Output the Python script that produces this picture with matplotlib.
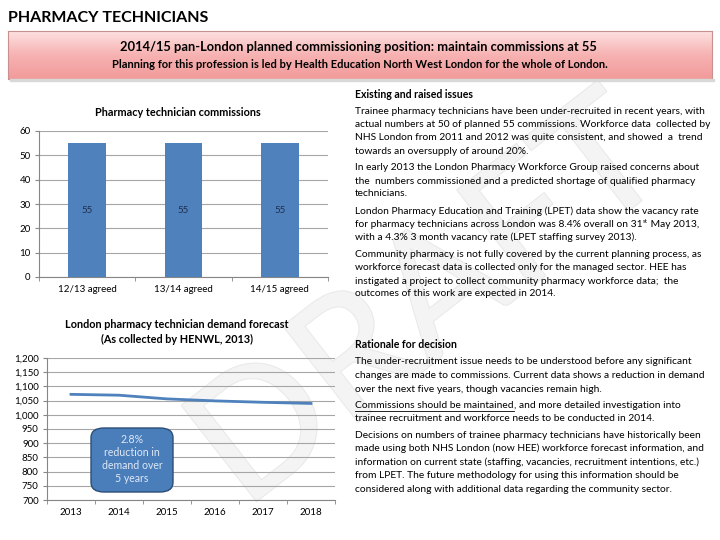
import matplotlib
matplotlib.use("Agg")
import matplotlib.pyplot as plt
import numpy as np
from matplotlib.patches import FancyBboxPatch, Rectangle
from matplotlib.ticker import FuncFormatter, MultipleLocator
from matplotlib.colors import LinearSegmentedColormap
import matplotlib.patheffects as pe

FONT = "Lato"
plt.rcParams['font.family'] = [FONT, 'DejaVu Sans']

# ---------------- data ----------------
bar_categories = ["12/13 agreed", "13/14 agreed", "14/15 agreed"]
bar_values = [55, 55, 55]

line_years = ["2013", "2014", "2015", "2016", "2017", "2018"]
line_values = [1072, 1069, 1056, 1049, 1044, 1040]

page_title = "PHARMACY TECHNICIANS"
banner_line1 = "2014/15 pan-London planned commissioning position: maintain commissions at 55"
banner_line2 = "Planning for this profession is led by Health Education North West London for the whole of London."
bar_title = "Pharmacy technician commissions"
line_title = "London pharmacy technician demand forecast\n(As collected by HENWL, 2013)"
callout_text = "2.8%\nreduction in\ndemand over\n5 years"

W, H = 720, 540
fig = plt.figure(figsize=(7.2, 5.4), dpi=100)
fig.patch.set_facecolor("white")

def fx(x):
    return x / W

def fy(y):
    return 1 - y / H

# ---------------- watermark (background axes) ----------------
bg = fig.add_axes([0, 0, 1, 1], zorder=-10)
bg.set_axis_off()
bg.set_xlim(0, W)
bg.set_ylim(H, 0)
bg.text(430, 305, "DRAFT", fontsize=122, color="#f4f4f4", rotation=38,
        ha="center", va="center", family=FONT,
        path_effects=[pe.withStroke(linewidth=1.5, foreground="#e9e9e9")])

# ---------------- header ----------------
fig.text(fx(8), fy(18), page_title, fontsize=11.5, fontweight="bold", ha="left",
         va="center", color="black")

bax = fig.add_axes([fx(8), fy(79), fx(704), (79 - 31) / H])
grad = np.linspace(0, 1, 100).reshape(-1, 1)
cmap = LinearSegmentedColormap.from_list("pk", ["#fde3e3", "#f7b3b3", "#f29a9a"])
bax.imshow(grad, aspect="auto", cmap=cmap, extent=[0, 1, 0, 1], origin="upper")
bax.set_xlim(0, 1)
bax.set_ylim(0, 1)
bax.set_xticks([])
bax.set_yticks([])
for s in bax.spines.values():
    s.set_color("#c99090")
    s.set_linewidth(0.8)
fig.patches.append(Rectangle((fx(10), fy(81)), fx(704), 2 / H, transform=fig.transFigure,
                             color="#d8d8d8", zorder=0))
fig.text(fx(358), fy(47), banner_line1, fontsize=9.3, fontweight="bold", ha="center", va="center")
fig.text(fx(360), fy(65), banner_line2, fontsize=8.0, fontweight="bold", ha="center", va="center")

# ---------------- bar chart ----------------
ax1 = fig.add_axes([fx(39), fy(277), 289 / W, 146 / H])
ax1.set_facecolor("none")
x = np.arange(len(bar_categories))
ax1.bar(x, bar_values, width=0.39, color="#4f81bd", zorder=3)
for xi, v in zip(x, bar_values):
    ax1.text(xi, v / 2, str(v), ha="center", va="center", fontsize=7, color="#1f2f4f", zorder=4)
ax1.set_xlim(-0.5, 2.5)
ax1.set_ylim(0, 60)
ax1.yaxis.set_major_locator(MultipleLocator(10))
ax1.grid(axis="y", color="#a6a6a6", linewidth=0.8, zorder=0)
ax1.set_xticks(x)
ax1.set_xticklabels(bar_categories, fontsize=7)
ax1.set_xticks([-0.5, 0.5, 1.5, 2.5], minor=True)
ax1.tick_params(axis="x", which="major", length=0, pad=6)
ax1.tick_params(axis="x", which="minor", length=3, color="#868686")
ax1.tick_params(axis="y", labelsize=7, length=3, color="#868686", pad=3)
for s in ["top", "right"]:
    ax1.spines[s].set_visible(False)
for s in ["left", "bottom"]:
    ax1.spines[s].set_color("#868686")
fig.text(fx(178), fy(112), bar_title, fontsize=7.8, fontweight="bold", ha="center", va="center")

# ---------------- line chart ----------------
ax2 = fig.add_axes([fx(47), fy(500), 288 / W, 142 / H])
ax2.set_facecolor("none")
xl = np.arange(len(line_years))
ax2.plot(xl, line_values, color="#4f81bd", linewidth=2, zorder=3)
ax2.set_xlim(-0.5, 5.5)
ax2.set_ylim(700, 1200)
ax2.yaxis.set_major_locator(MultipleLocator(50))
ax2.yaxis.set_major_formatter(FuncFormatter(lambda v, p: f"{int(v):,}"))
ax2.grid(axis="y", color="#a6a6a6", linewidth=0.8, zorder=0)
ax2.set_xticks(xl)
ax2.set_xticklabels(line_years, fontsize=7)
ax2.set_xticks(np.arange(-0.5, 6, 1), minor=True)
ax2.tick_params(axis="x", which="major", length=0, pad=6)
ax2.tick_params(axis="x", which="minor", length=3, color="#868686")
ax2.tick_params(axis="y", labelsize=7, length=3, color="#868686", pad=3)
for s in ["top", "right"]:
    ax2.spines[s].set_visible(False)
for s in ["left", "bottom"]:
    ax2.spines[s].set_color("#868686")
fig.text(fx(177), fy(332), line_title, fontsize=7.8, fontweight="bold", ha="center",
         va="center", linespacing=1.35)

cb = FancyBboxPatch((fx(91), fy(492)), fx(82), 64 / H, boxstyle="round,pad=0,rounding_size=0.018",
                    transform=fig.transFigure, facecolor="#4a7ebb", edgecolor="#2c4d75",
                    linewidth=1.0, zorder=5)
fig.patches.append(cb)
fig.text(fx(132), fy(459), callout_text, fontsize=7.6, color="#dfe8f5", ha="center",
         va="center", linespacing=1.25, zorder=6)

# ---------------- right text ----------------
TX = 355
FS = 7.35
fig.text(fx(TX), fy(94), "Existing and raised issues", fontsize=7.6, fontweight="bold", ha="left", va="center")

existing = [
    (112, "Trainee pharmacy technicians have been under-recruited in recent years, with"),
    (124.5, "actual numbers at 50 of planned 55 commissions. Workforce data  collected by"),
    (137.5, "NHS London from 2011 and 2012 was quite consistent, and showed  a  trend"),
    (151, "towards an oversupply of around 20%."),
    (168, "In early 2013 the London Pharmacy Workforce Group raised concerns about"),
    (181, "the  numbers commissioned and a predicted shortage of qualified pharmacy"),
    (194, "technicians."),
    (211, "London Pharmacy Education and Training (LPET) data show the vacancy rate"),
    (237.5, "with a 4.3% 3 month vacancy rate (LPET staffing survey 2013)."),
    (254.5, "Community pharmacy is not fully covered by the current planning process, as"),
    (268, "workforce forecast data is collected only for the managed sector. HEE has"),
    (281, "instigated a project to collect community pharmacy workforce data;  the"),
    (294, "outcomes of this work are expected in 2014."),
]
for y, t in existing:
    fig.text(fx(TX), fy(y), t, fontsize=FS, ha="left", va="center")

renderer = fig.canvas.get_renderer()

t1 = fig.text(fx(TX), fy(224.5), "for pharmacy technicians across London was 8.4% overall on 31",
              fontsize=FS, ha="left", va="center")
bb = t1.get_window_extent(renderer)
t2 = fig.text(bb.x1 / W + 0.5 / W, fy(221.5), "st", fontsize=FS * 0.62, ha="left", va="center")
bb2 = t2.get_window_extent(renderer)
fig.text(bb2.x1 / W, fy(224.5), " May 2013,", fontsize=FS, ha="left", va="center")

fig.text(fx(TX), fy(345), "Rationale for decision", fontsize=7.6, fontweight="bold", ha="left", va="center")
rationale = [
    (362, "The under-recruitment issue needs to be understood before any significant"),
    (375.5, "changes are made to commissions. Current data shows a reduction in demand"),
    (389, "over the next five years, though vacancies remain high."),
    (418.5, "trainee recruitment and workforce needs to be conducted in 2014."),
    (435.5, "Decisions on numbers of trainee pharmacy technicians have historically been"),
    (448.5, "made using both NHS London (now HEE) workforce forecast information, and"),
    (462, "information on current state (staffing, vacancies, recruitment intentions, etc.)"),
    (475.5, "from LPET. The future methodology for using this information should be"),
    (489, "considered along with additional data regarding the community sector."),
]
for y, t in rationale:
    fig.text(fx(TX), fy(y), t, fontsize=FS, ha="left", va="center")

u1 = fig.text(fx(TX), fy(405.5), "Commissions should be maintained", fontsize=FS, ha="left", va="center")
ub = u1.get_window_extent(renderer)
fig.add_artist(plt.Line2D([ub.x0 / W, ub.x1 / W], [fy(410.5), fy(410.5)], transform=fig.transFigure,
                          color="black", linewidth=0.6))
fig.text(ub.x1 / W, fy(405.5), ", and more detailed investigation into", fontsize=FS, ha="left", va="center")

fig.savefig("out.png", dpi=100, facecolor="white")
